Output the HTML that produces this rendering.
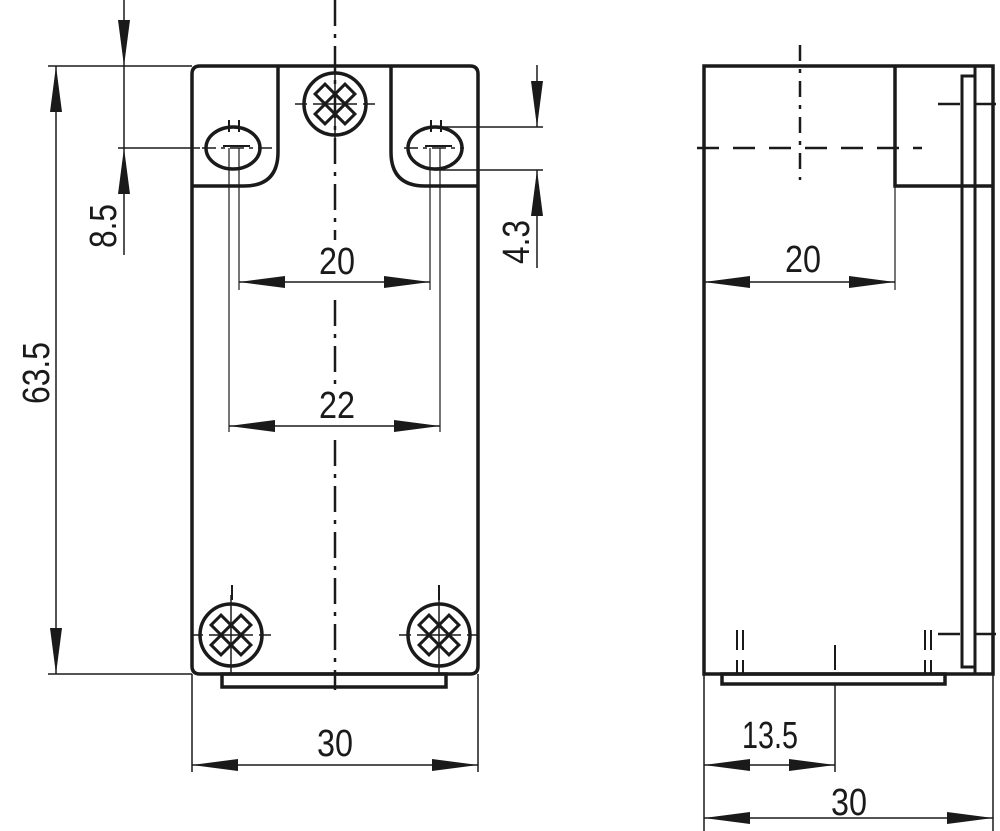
<!DOCTYPE html>
<html><head><meta charset="utf-8"><style>
html,body{margin:0;padding:0;background:#fff}
svg{display:block}
text{font-family:"Liberation Sans",sans-serif;font-size:38px;fill:#1a1a1a}
</style></head><body>
<svg width="1000" height="831" viewBox="0 0 1000 831" xmlns="http://www.w3.org/2000/svg">
<defs>
<marker id="a" viewBox="0 0 46 12" refX="46" refY="6" markerWidth="46" markerHeight="12" markerUnits="userSpaceOnUse" orient="auto-start-reverse"><path d="M0,0 L46,6 L0,12 Z" fill="#1a1a1a"/></marker>
<g id="scr">
<circle r="31" fill="none" stroke="#1a1a1a" stroke-width="3.5"/>
<g fill="none" stroke="#1a1a1a" stroke-width="3">
<rect x="-7" y="-7" width="14" height="14" transform="translate(-10,-10) rotate(45)"/>
<rect x="-7" y="-7" width="14" height="14" transform="translate(10,-10) rotate(45)"/>
<rect x="-7" y="-7" width="14" height="14" transform="translate(-10,10) rotate(45)"/>
<rect x="-7" y="-7" width="14" height="14" transform="translate(10,10) rotate(45)"/>
</g>
<path d="M-40,0 H-28 M-22,0 H22 M28,0 H40 M0,-40 V40" stroke="#1a1a1a" stroke-width="1.5"/>
</g>
</defs>
<g stroke="#1a1a1a" fill="none">
<path d="M200,66 H470 Q478,66 478,74 V666 Q478,674 470,674 H200 Q192,674 192,666 V74 Q192,66 200,66 Z" stroke-width="3.5"/>
<path d="M278,66 V152 Q278,186 244,186 H192" stroke-width="3.5"/>
<path d="M391,66 V152 Q391,186 425,186 H478" stroke-width="3.5"/>
<ellipse cx="233" cy="148" rx="27" ry="21" stroke-width="3.5"/>
<ellipse cx="435" cy="148" rx="27" ry="21" stroke-width="3.5"/>
<rect x="222" y="674" width="224" height="13" stroke-width="3.5"/>
<path d="M335,0 V240 M335,300 V385 M335,440 V690" stroke-width="2.5" stroke-dasharray="26,8,4,8"/>
<path d="M202,148 H272 M404,148 H464" stroke-width="1.5" stroke-dasharray="14,5,4,5"/>
<path d="M229,120 V132 M239,120 V132 M431,120 V132 M441,120 V132" stroke-width="2"/>
<path d="M223,146 H250 M425,146 H452" stroke-width="2"/>
<path d="M229,148 V432 M239,148 V290 M430,148 V290 M440,148 V432" stroke-width="1.2"/>
<path d="M232,585 V600 M439,585 V600" stroke-width="2"/>
<path d="M704,66 H993 V674 H704 Z" stroke-width="3.5"/>
<path d="M895,66 V186 H993" stroke-width="3.5"/>
<path d="M975,66 V76 H962 V667 H975 V674" stroke-width="3"/>
<path d="M975,76 V674" stroke-width="3"/>
<rect x="722" y="674" width="223" height="10" stroke-width="3.5"/>
<path d="M800,45 V180" stroke-width="2.5" stroke-dasharray="16,8,4,8"/>
<path d="M697,148 H922" stroke-width="2.5" stroke-dasharray="22,14"/>
<path d="M938,104 H1000 M938,634 H1000" stroke-width="2.5" stroke-dasharray="22,14"/>
<path d="M737,630 V650 M743,630 V650 M737,660 V674 M743,660 V674 M925,630 V650 M931,630 V650 M925,660 V674 M931,660 V674" stroke-width="2"/>
<path d="M835,645 V670" stroke-width="2"/>
<path d="M895,186 V290" stroke-width="1.2"/>
<g stroke-width="1.5">
<path d="M48,66 H192 M48,674 H192"/>
<path d="M56,66 V674" marker-start="url(#a)" marker-end="url(#a)"/>
<path d="M124,0 V66" marker-end="url(#a)"/>
<path d="M124,255 V148" marker-end="url(#a)"/>
<path d="M124,66 V148"/>
<path d="M118,148 H200"/>
<path d="M434,127 H543 M434,170 H543"/>
<path d="M537,65 V127" marker-end="url(#a)"/>
<path d="M537,268 V170" marker-end="url(#a)"/>
<path d="M239,282 H430" marker-start="url(#a)" marker-end="url(#a)"/>
<path d="M229,426 H440" marker-start="url(#a)" marker-end="url(#a)"/>
<path d="M192,674 V772 M478,674 V772"/>
<path d="M192,765 H478" marker-start="url(#a)" marker-end="url(#a)"/>
<path d="M704,282 H895" marker-start="url(#a)" marker-end="url(#a)"/>
<path d="M704,674 V831 M993,674 V831 M835,684 V772"/>
<path d="M704,765 H835" marker-start="url(#a)" marker-end="url(#a)"/>
<path d="M704,818 H993" marker-start="url(#a)" marker-end="url(#a)"/>
</g>
</g>
<use href="#scr" x="335" y="104"/>
<use href="#scr" x="231" y="635"/>
<use href="#scr" x="439" y="635"/>
<text x="337" y="274" text-anchor="middle" textLength="36" lengthAdjust="spacingAndGlyphs">20</text>
<text x="337" y="418" text-anchor="middle" textLength="36" lengthAdjust="spacingAndGlyphs">22</text>
<text x="335" y="756" text-anchor="middle" textLength="36" lengthAdjust="spacingAndGlyphs">30</text>
<text x="803" y="272" text-anchor="middle" textLength="36" lengthAdjust="spacingAndGlyphs">20</text>
<text x="770" y="748" text-anchor="middle" textLength="56" lengthAdjust="spacingAndGlyphs">13.5</text>
<text x="849" y="815" text-anchor="middle" textLength="36" lengthAdjust="spacingAndGlyphs">30</text>
<text transform="translate(49,373) rotate(-90)" text-anchor="middle" textLength="62" lengthAdjust="spacingAndGlyphs">63.5</text>
<text transform="translate(116,226) rotate(-90)" text-anchor="middle" textLength="44" lengthAdjust="spacingAndGlyphs">8.5</text>
<text transform="translate(529,242) rotate(-90)" text-anchor="middle" textLength="44" lengthAdjust="spacingAndGlyphs">4.3</text>
</svg>
</body></html>
